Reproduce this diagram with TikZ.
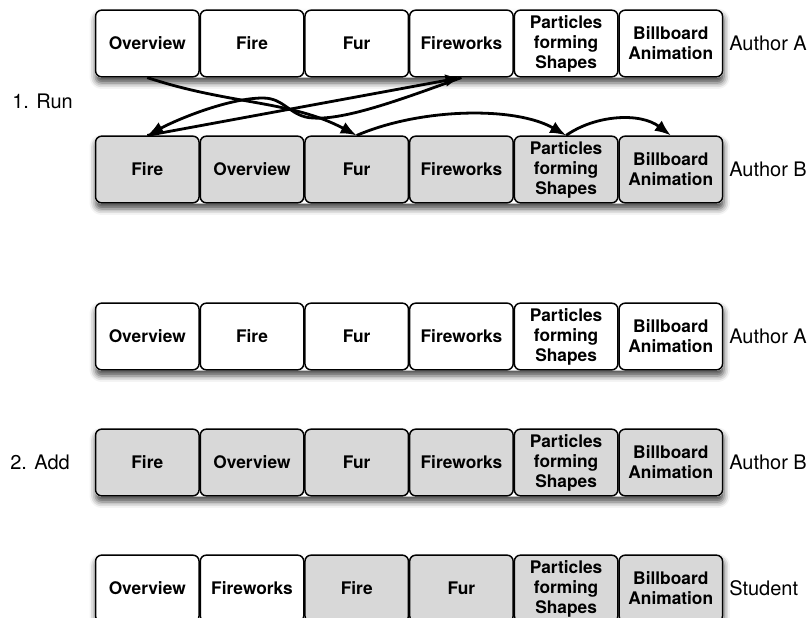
\documentclass[tikz,border=0pt]{standalone}
\usepackage{fontspec}
\setmainfont{TeX Gyre Heros}
\usetikzlibrary{arrows.meta,backgrounds,shadows.blur}

\definecolor{cardgray}{RGB}{216,216,216}

\begin{document}
\begin{tikzpicture}[x=0.75pt, y=-0.75pt,
    card/.style={draw, line width=1.1pt, rounded corners=4.5pt, fill=white,
      minimum width=77.6pt, minimum height=50pt, inner sep=0pt, align=center,
      font=\fontsize{13}{15}\selectfont\bfseries},
    graycard/.style={card, fill=cardgray},
    rowshadow/.style={fill=white, rounded corners=4.5pt,
      blur shadow={shadow xshift=0.5pt, shadow yshift=-4pt,
        shadow blur radius=4.5pt, shadow opacity=70}},
    who/.style={anchor=west, inner sep=0pt, font=\fontsize{15}{18}\selectfont},
    phase/.style={anchor=west, inner sep=0pt, font=\fontsize{15}{18}\selectfont},
    jump/.style={-{Latex[length=12pt,width=9.5pt]}, line width=2.1pt}]

    \clip (0,0) rectangle (811,618);

    % 1. Run: order of author A
    \foreach \t [count=\i] in {Overview, Fire, Fur, Fireworks,
        {Particles\\forming\\Shapes}, {Billboard\\Animation}}
      \node[card] (a\i) at ({147.3+104.7*(\i-1)}, 43.5) {\t};
    \node[who] (whoA1) at (729, 43.5) {Author A};

    % order of author B
    \foreach \t [count=\i] in {Fire, Overview, Fur, Fireworks,
        {Particles\\forming\\Shapes}, {Billboard\\Animation}}
      \node[graycard] (b\i) at ({147.3+104.7*(\i-1)}, 169.5) {\t};
    \node[who] (whoB1) at (729, 169.5) {Author B};

    \node[phase] (run) at (12, 101) {1. Run};

    % 2. Add
    \foreach \t [count=\i] in {Overview, Fire, Fur, Fireworks,
        {Particles\\forming\\Shapes}, {Billboard\\Animation}}
      \node[card] (c\i) at ({147.3+104.7*(\i-1)}, 336.5) {\t};
    \node[who] (whoA2) at (729, 336.5) {Author A};

    \foreach \t [count=\i] in {Fire, Overview, Fur, Fireworks,
        {Particles\\forming\\Shapes}, {Billboard\\Animation}}
      \node[graycard] (d\i) at ({147.3+104.7*(\i-1)}, 462.5) {\t};
    \node[who] (whoB2) at (729, 462.5) {Author B};

    \node[phase] (add) at (10, 462.5) {2. Add};

    % merged order
    \foreach \t/\s [count=\i] in {Overview/card, Fireworks/card, Fire/graycard,
        Fur/graycard, {Particles\\forming\\Shapes}/graycard,
        {Billboard\\Animation}/graycard}
      \node[\s] (e\i) at ({147.3+104.7*(\i-1)}, 588.5) {\t};
    \node[who] (whoS) at (729, 588.5) {Student};

    % shadows under each row
    \begin{scope}[on background layer]
      \foreach \r in {a,b,c,d,e}
        \path[rowshadow] (\r1.north west) rectangle (\r6.south east);
    \end{scope}

    % jumps between the two orders
    \draw[jump] (a1.south) .. controls (230,105) and (290,100) .. (b3.north);
    \draw[jump] (b1.north) -- (a4.south);
    \draw[jump] (a4.south) .. controls (400,100) and (345,120) .. (313,118)
      .. controls (290,117) and (285,98) .. (263,98)
      .. controls (230,98) and (180,118) .. (b1.north);
    \draw[jump] (b3.north) .. controls (420,108) and (515,106) .. (b5.north);
    \draw[jump] (b5.north) .. controls (595,115) and (640,112) .. (b6.north);
\end{tikzpicture}
\end{document}
